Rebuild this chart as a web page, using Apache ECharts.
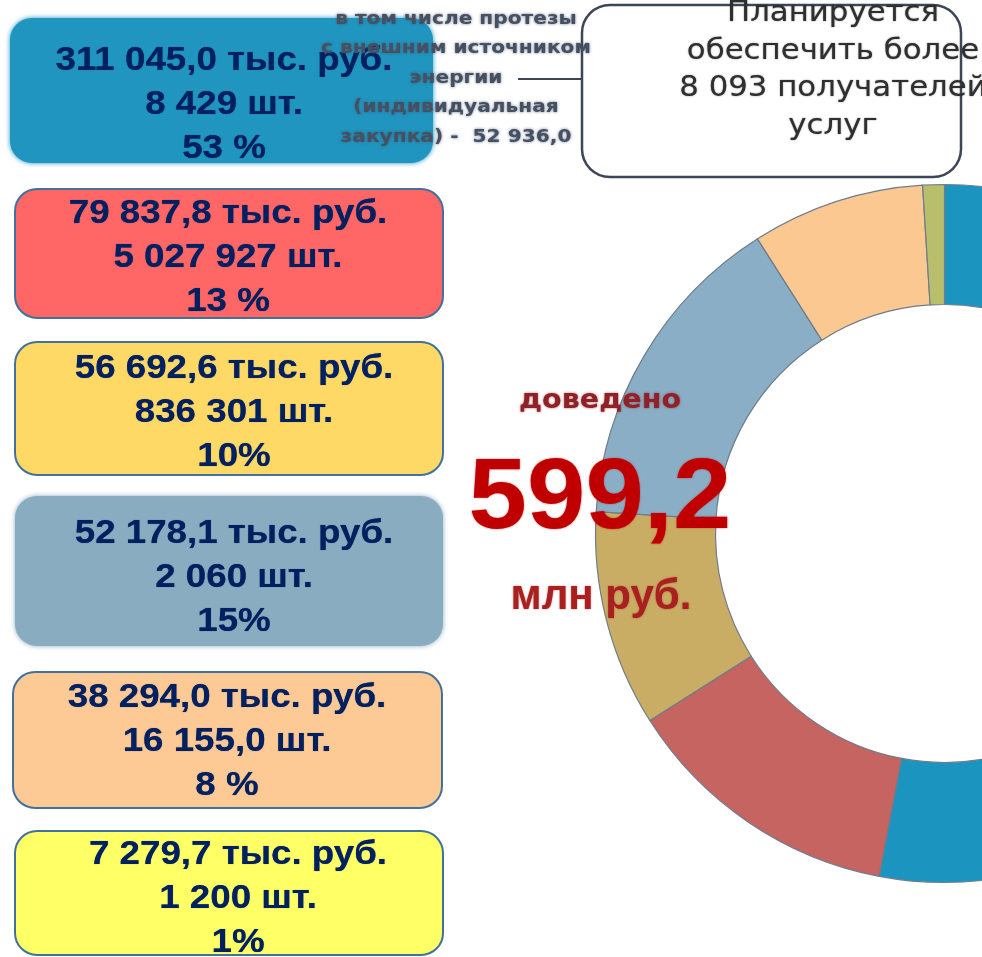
<!DOCTYPE html>
<html>
<head>
<meta charset="utf-8">
<script src="https://cdn.jsdelivr.net/npm/echarts@6/dist/echarts.min.js"></script>
<style>
  html, body { margin: 0; padding: 0; background: #ffffff; }
  #chart { width: 982px; height: 957px; }
</style>
</head>
<body>
<div id="chart"></div>
<script>
// Shares of the allocated funds by direction (percent), clockwise from the top
const sharePct = [53, 13, 10, 15, 8, 1];
const shareLabels = ['53 %', '13 %', '10%', '15%', '8 %', '1%'];
const amountLabels = [
  '311 045,0 тыс. руб.',
  '79 837,8 тыс. руб.',
  '56 692,6 тыс. руб.',
  '52 178,1 тыс. руб.',
  '38 294,0 тыс. руб.',
  '7 279,7 тыс. руб.'
];
const unitLabels = ['8 429 шт.', '5 027 927 шт.', '836 301 шт.', '2 060 шт.', '16 155,0 шт.', '1 200 шт.'];
const totalLabel = '599,2';
const totalCaption = 'доведено';
const totalUnit = 'млн руб.';
const noteLines = ['в том числе протезы', 'с внешним источником', 'энергии', '(индивидуальная', 'закупка) -  52 936,0'];
const planLines = ['Планируется', 'обеспечить более', '8 093 получателей', 'услуг'];

// Ring segment colours and card colours
const sliceColors = ['#1b95c0', '#c56461', '#c9ad64', '#8aaec6', '#fcc891', '#b9be6c'];
const cardColors = ['#1f95c0', '#ff6666', '#ffd966', '#8aacc0', '#fdc995', '#ffff66'];
const cardBorder = [false, true, true, false, true, true];

// Card layout: left, top, width, height, text centre x, first line y
const cardLayout = [
  [10, 18, 423, 145, 224, 61],
  [15, 189, 428, 129, 228, 214],
  [15, 342, 428, 133, 234, 369],
  [15, 496, 428, 150, 234, 534],
  [13, 672, 429, 136, 227, 698],
  [15, 831, 428, 124, 238, 855]
];
const lineStep = 44;

const chart = echarts.init(document.getElementById('chart'), null, { renderer: 'canvas' });

const graphics = [];
cardLayout.forEach((c, i) => {
  const rect = {
    type: 'rect',
    z: 5,
    shape: { x: c[0], y: c[1], width: c[2], height: c[3], r: 22 },
    style: cardBorder[i]
      ? { fill: cardColors[i], stroke: '#41719c', lineWidth: 2 }
      : { fill: cardColors[i], shadowBlur: 5, shadowColor: cardColors[i] }
  };
  graphics.push(rect);
  const lines = [amountLabels[i], unitLabels[i], shareLabels[i]];
  lines.forEach((t, k) => {
    graphics.push({
      type: 'text',
      z: 20,
      x: c[4],
      y: c[5] + k * lineStep,
      scaleX: 1.08,
      style: {
        text: t,
        fill: '#002060',
        font: 'bold 34px "Liberation Sans", Arial, sans-serif',
        textAlign: 'center',
        textVerticalAlign: 'middle',
        textShadowBlur: 0.8,
        textShadowColor: 'rgba(0,32,96,0.8)'
      }
    });
  });
});

// Small note above the cards
noteLines.forEach((t, k) => {
  graphics.push({
    type: 'text',
    z: 25,
    x: 456,
    y: 19 + k * 29.5,
    scaleX: 1.12,
    style: {
      text: t,
      fill: '#465063',
      font: 'bold 18px "DejaVu Sans", sans-serif',
      textAlign: 'center',
      textVerticalAlign: 'middle',
      textShadowBlur: 3,
      textShadowColor: 'rgba(70,80,99,0.8)'
    }
  });
});
graphics.push({
  type: 'line', z: 25,
  shape: { x1: 518, y1: 79, x2: 582, y2: 79 },
  style: { stroke: '#3b4657', lineWidth: 2 }
});

// Call-out with the planned number of recipients
graphics.push({
  type: 'rect', z: 8,
  shape: { x: 582, y: 5, width: 379, height: 172, r: 28 },
  style: { fill: '#ffffff', stroke: '#3b4657', lineWidth: 2.5 }
});
planLines.forEach((t, k) => {
  graphics.push({
    type: 'text',
    z: 9,
    x: 833,
    y: 14 + k * 37.5,
    scaleX: 1.1,
    style: {
      text: t,
      fill: '#2f2f2f',
      font: '28px "DejaVu Sans", sans-serif',
      textAlign: 'center',
      textVerticalAlign: 'middle',
      textShadowBlur: 1.5,
      textShadowColor: 'rgba(47,47,47,0.7)'
    }
  });
});

// Centre caption of the ring
graphics.push({
  type: 'text', z: 30, x: 600, y: 401,
  scaleX: 1.1,
  style: {
    text: totalCaption, fill: '#8f2228',
    font: 'bold 26px "DejaVu Sans", sans-serif',
    textAlign: 'center', textVerticalAlign: 'middle',
    textShadowBlur: 2.5, textShadowColor: 'rgba(143,34,40,0.7)'
  }
});
graphics.push({
  type: 'text', z: 30, x: 600, y: 500,
  scaleX: 1.05,
  style: {
    text: totalLabel, fill: '#c00000',
    font: 'bold 100px "Liberation Sans", Arial, sans-serif',
    textAlign: 'center', textVerticalAlign: 'middle',
    textShadowBlur: 2, textShadowColor: 'rgba(192,0,0,0.6)'
  }
});
graphics.push({
  type: 'text', z: 30, x: 601, y: 597,
  style: {
    text: totalUnit, fill: '#a8201f',
    font: 'bold 42px "Liberation Sans", Arial, sans-serif',
    textAlign: 'center', textVerticalAlign: 'middle',
    textShadowBlur: 2, textShadowColor: 'rgba(168,32,31,0.6)'
  }
});

chart.setOption({
  animation: false,
  backgroundColor: '#ffffff',
  series: [{
    type: 'pie',
    z: 2,
    silent: true,
    center: [944.5, 533.5],
    radius: [229, 349],
    startAngle: 90,
    clockwise: true,
    label: { show: false },
    labelLine: { show: false },
    itemStyle: { borderColor: '#6f7c8a', borderWidth: 1.2 },
    data: sharePct.map((v, i) => ({ value: v, itemStyle: { color: sliceColors[i] } }))
  }],
  graphic: { elements: graphics }
});
</script>
</body>
</html>
